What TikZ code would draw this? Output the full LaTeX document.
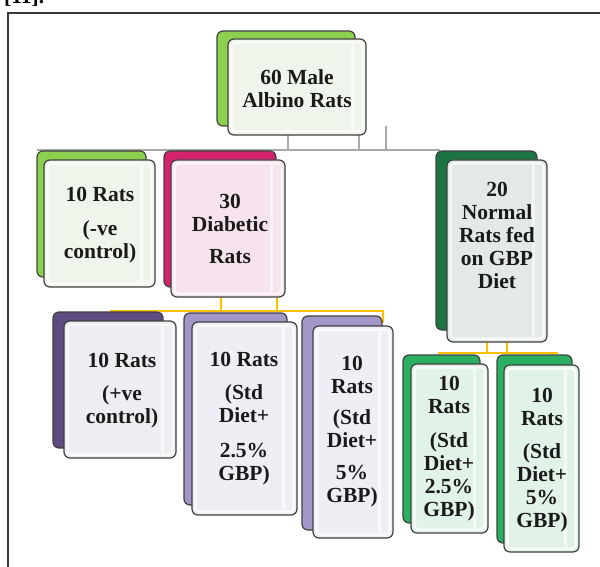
\documentclass[tikz,border=0pt]{standalone}
\usepackage{fontspec}
\setmainfont{Liberation Serif}
\definecolor{bordercol}{HTML}{404040}
\definecolor{textcol}{HTML}{1A1A1A}
\definecolor{graycol}{HTML}{A8A8A8}
\definecolor{yelcol}{HTML}{FFC000}
\definecolor{framecol}{HTML}{3A3A3A}
\definecolor{greenA}{HTML}{8DD04F}
\definecolor{frontA}{HTML}{EFF5EA}
\definecolor{magentaB}{HTML}{D4226E}
\definecolor{frontM}{HTML}{F6E3EE}
\definecolor{darkgreenB}{HTML}{1D7443}
\definecolor{frontN}{HTML}{E3EAE6}
\definecolor{purpleDark}{HTML}{5E4B80}
\definecolor{frontP}{HTML}{EEEDF2}
\definecolor{purpleLight}{HTML}{A596C9}
\definecolor{frontPL}{HTML}{F0EEF5}
\definecolor{greenB}{HTML}{2BB062}
\definecolor{frontG}{HTML}{E1F2E7}
\begin{document}
\begin{tikzpicture}[x=1pt,y=-1pt,
  tile/.style={draw=bordercol, line width=1.2pt, rounded corners=6pt, inner sep=0pt, outer sep=0pt},
  fronttile/.style={tile, path picture={
      \draw[white, opacity=0.85, line width=2pt, rounded corners=4pt]
        ([shift={(3.5pt,-3.5pt)}]path picture bounding box.north west) rectangle
        ([shift={(-3.5pt,3.5pt)}]path picture bounding box.south east);
      \draw[white, opacity=0.6, line width=3pt]
        ([shift={(-14pt,-5pt)}]path picture bounding box.north east) --
        ([shift={(-14pt,5pt)}]path picture bounding box.south east);
    }},
  txt/.style={font=\fontsize{21.5}{23}\selectfont\bfseries, align=center, inner sep=0pt, text=textcol},
  grayline/.style={draw=graycol, line width=1.2pt},
  yline/.style={draw=yelcol, line width=1.8pt}]
\useasboundingbox (0,0) rectangle (600,567);
\clip (0,0) rectangle (600,567);
% clipped caption remnant and frame
\node[anchor=base west, font=\fontsize{21.5}{23}\selectfont\bfseries, inner sep=0pt] (cap) at (4,4) {[11].};
\coordinate (frA) at (8,567);
\coordinate (frB) at (8,13);
\coordinate (frC) at (600,13);
\draw[framecol, line width=1.5pt] (frA) -- (frB) -- (frC);

% gray connectors
\coordinate (busL) at (37,150);
\coordinate (busR) at (440,150);
\coordinate (g1) at (288,150);
\coordinate (g2) at (359,150);
\coordinate (g3) at (386,150);
\coordinate (g3t) at (386,126);
\draw[grayline] (busL) -- (busR);
\draw[grayline] (g1) -- (288,135);
\draw[grayline] (g2) -- (359,135);
\draw[grayline] (g3) -- (g3t);

% yellow connectors
\coordinate (yL) at (110,311);
\coordinate (yR) at (383,311);
\coordinate (yRd) at (383,323);
\coordinate (y1) at (221,311);
\coordinate (y2) at (277,311);
\draw[yline] (yL) -- (yR) -- (yRd);
\draw[yline] (y1) -- (221,296);
\draw[yline] (y2) -- (277,296);
\coordinate (zL) at (438,353);
\coordinate (zR) at (558,353);
\coordinate (z1) at (487,353);
\coordinate (z2) at (507,353);
\draw[yline] (zL) -- (zR);
\draw[yline] (z1) -- (487,341);
\draw[yline] (z2) -- (507,341);

% tiles: back then front
\node[tile, fill=greenA, minimum width=138, minimum height=95] (b1) at (286,78.5) {};
\node[fronttile, fill=frontA, minimum width=138, minimum height=96] (f1) at (297,87) {};
\node[txt] (t1) at (297,88.5) {60 Male\\Albino Rats};

\node[tile, fill=greenA, minimum width=109, minimum height=126] (b2) at (91.5,214) {};
\node[fronttile, fill=frontA, minimum width=111, minimum height=127] (f2) at (99.5,223.5) {};
\node[txt] (t2) at (100,225) {10 Rats\\[11pt](-ve\\control)};

\node[tile, fill=magentaB, minimum width=112, minimum height=136] (b3) at (220,219) {};
\node[fronttile, fill=frontM, minimum width=114, minimum height=137] (f3) at (228,228.5) {};
\node[txt] (t3) at (230,229) {30\\Diabetic\\[9pt]Rats};

\node[tile, fill=darkgreenB, minimum width=101, minimum height=179] (b4) at (486.5,240.5) {};
\node[fronttile, fill=frontN, minimum width=100, minimum height=182] (f4) at (497,251) {};
\node[txt] (t4) at (497,235) {20\\Normal\\Rats fed\\on GBP\\Diet};

\node[tile, fill=purpleDark, minimum width=110, minimum height=136] (b5) at (108,380) {};
\node[fronttile, fill=frontP, minimum width=112, minimum height=137] (f5) at (120,389.5) {};
\node[txt] (t5) at (122,391) {10 Rats\\[10pt](+ve\\control)};

\node[tile, fill=purpleLight, minimum width=103, minimum height=192] (b6) at (235.5,409) {};
\node[fronttile, fill=frontPL, minimum width=105, minimum height=193] (f6) at (244.5,418.5) {};
\node[txt] (t6) at (244,419) {10 Rats\\[10pt](Std\\Diet+\\[12pt]2.5\%\\GBP)};

\node[tile, fill=purpleLight, minimum width=80, minimum height=214] (b7) at (342,423) {};
\node[fronttile, fill=frontPL, minimum width=80, minimum height=212] (f7) at (353,432) {};
\node[txt] (t7) at (352,432) {10\\Rats\\[8pt](Std\\Diet+\\[9pt]5\%\\GBP)};

\node[tile, fill=greenB, minimum width=77, minimum height=168] (b8) at (441.5,439) {};
\node[fronttile, fill=frontG, minimum width=77, minimum height=169] (f8) at (449.5,448.5) {};
\node[txt] (t8) at (449,449) {10\\Rats\\[11pt](Std\\Diet+\\2.5\%\\GBP)};

\node[tile, fill=greenB, minimum width=75, minimum height=188] (b9) at (534.5,449) {};
\node[fronttile, fill=frontG, minimum width=75, minimum height=187] (f9) at (541.5,458.5) {};
\node[txt] (t9) at (542,460) {10\\Rats\\[10pt](Std\\Diet+\\5\%\\GBP)};
\end{tikzpicture}
\end{document}
